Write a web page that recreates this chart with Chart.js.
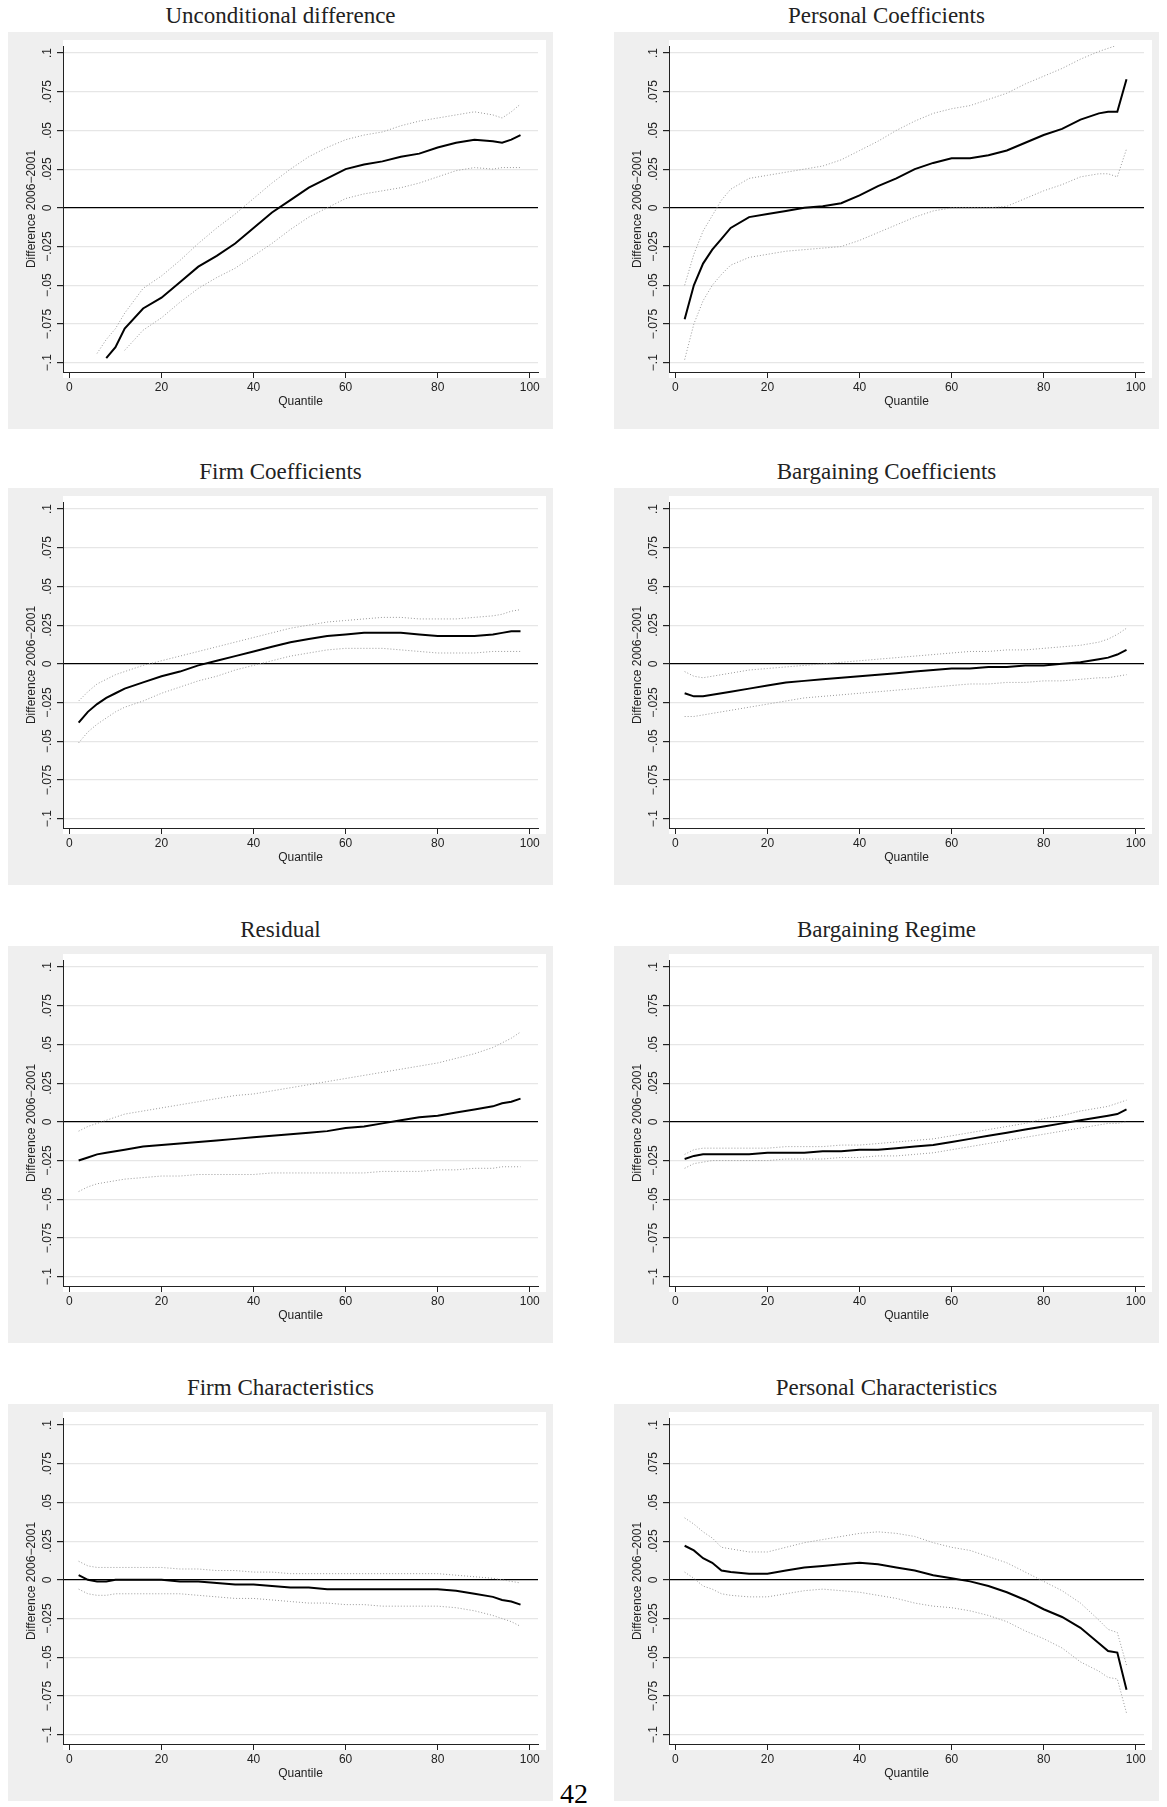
<!DOCTYPE html>
<html>
<head>
<meta charset="utf-8">
<script src="https://cdn.jsdelivr.net/npm/chart.js@4"></script>
<style>
body{margin:0;background:#fff;width:1167px;height:1807px;position:relative;overflow:hidden;}
.title{position:absolute;width:545px;text-align:center;font-family:"Liberation Serif",serif;font-weight:normal;font-size:23px;color:#222;}
.panel{position:absolute;width:545px;height:397px;background:#efefef;}
.page{position:absolute;left:560px;top:1778px;font-family:"Liberation Serif",serif;font-size:28px;}
</style>
</head>
<body>
<div id="wrap"></div>
<div class="page">42</div>
<script>
// quantile grid shared by all panels
const Q = [2,4,6,8,10,12,16,20,24,28,32,36,40,44,48,52,56,60,64,68,72,76,80,84,88,92,94,96,98];
const _ = null;

const titles = ['Unconditional difference','Personal Coefficients','Firm Coefficients','Bargaining Coefficients',
  'Residual','Bargaining Regime','Firm Characteristics','Personal Characteristics'];

// estimates
const est1 = [_,_,_,-0.097,-0.09,-0.078,-0.065,-0.058,-0.048,-0.038,-0.031,-0.023,-0.013,-0.003,0.005,0.013,0.019,0.025,0.028,0.030,0.033,0.035,0.039,0.042,0.044,0.043,0.042,0.044,0.047];
const up1  = [_,_,-0.094,-0.085,-0.078,-0.068,-0.052,-0.044,-0.034,-0.023,-0.013,-0.004,0.006,0.016,0.025,0.033,0.039,0.044,0.047,0.049,0.053,0.056,0.058,0.060,0.062,0.060,0.058,0.062,0.067];
const lo1  = [_,_,_,_,_,-0.092,-0.079,-0.071,-0.061,-0.052,-0.045,-0.039,-0.031,-0.023,-0.014,-0.006,0.000,0.006,0.009,0.011,0.013,0.016,0.020,0.024,0.026,0.025,0.026,0.026,0.026];

const est2 = [-0.072,-0.050,-0.036,-0.027,-0.020,-0.013,-0.006,-0.004,-0.002,0.000,0.001,0.003,0.008,0.014,0.019,0.025,0.029,0.032,0.032,0.034,0.037,0.042,0.047,0.051,0.057,0.061,0.062,0.062,0.083];
const up2  = [-0.05,-0.03,-0.015,-0.005,0.005,0.012,0.019,0.021,0.023,0.025,0.027,0.031,0.037,0.043,0.050,0.056,0.061,0.064,0.066,0.070,0.074,0.080,0.085,0.090,0.096,0.101,0.103,0.105,0.12];
const lo2  = [-0.098,-0.075,-0.060,-0.050,-0.043,-0.037,-0.032,-0.030,-0.028,-0.027,-0.026,-0.025,-0.021,-0.016,-0.011,-0.006,-0.002,0.000,0.000,0.000,0.001,0.006,0.011,0.015,0.020,0.022,0.022,0.020,0.038];

const est3 = [-0.038,-0.031,-0.026,-0.022,-0.019,-0.016,-0.012,-0.008,-0.005,-0.001,0.002,0.005,0.008,0.011,0.014,0.016,0.018,0.019,0.020,0.020,0.020,0.019,0.018,0.018,0.018,0.019,0.020,0.021,0.021];
const up3  = [-0.024,-0.018,-0.013,-0.010,-0.007,-0.005,-0.001,0.002,0.005,0.008,0.011,0.014,0.017,0.020,0.023,0.025,0.027,0.028,0.029,0.030,0.030,0.029,0.029,0.029,0.030,0.031,0.032,0.034,0.035];
const lo3  = [-0.051,-0.044,-0.039,-0.035,-0.031,-0.028,-0.024,-0.019,-0.015,-0.011,-0.008,-0.004,-0.001,0.002,0.005,0.007,0.009,0.010,0.010,0.010,0.009,0.008,0.007,0.007,0.007,0.008,0.008,0.008,0.008];

const est4 = [-0.019,-0.021,-0.021,-0.020,-0.019,-0.018,-0.016,-0.014,-0.012,-0.011,-0.010,-0.009,-0.008,-0.007,-0.006,-0.005,-0.004,-0.003,-0.003,-0.002,-0.002,-0.001,-0.001,0.000,0.001,0.003,0.004,0.006,0.009];
const up4  = [-0.005,-0.008,-0.009,-0.008,-0.007,-0.006,-0.004,-0.003,-0.002,-0.001,0.000,0.001,0.002,0.003,0.004,0.005,0.006,0.007,0.008,0.008,0.009,0.009,0.010,0.011,0.012,0.014,0.016,0.019,0.023];
const lo4  = [-0.034,-0.034,-0.033,-0.032,-0.031,-0.030,-0.028,-0.026,-0.024,-0.022,-0.021,-0.020,-0.019,-0.018,-0.017,-0.016,-0.015,-0.014,-0.013,-0.013,-0.012,-0.012,-0.011,-0.011,-0.010,-0.009,-0.009,-0.008,-0.007];

const est5 = [-0.025,-0.023,-0.021,-0.020,-0.019,-0.018,-0.016,-0.015,-0.014,-0.013,-0.012,-0.011,-0.010,-0.009,-0.008,-0.007,-0.006,-0.004,-0.003,-0.001,0.001,0.003,0.004,0.006,0.008,0.010,0.012,0.013,0.015];
const up5  = [-0.006,-0.003,-0.001,0.001,0.003,0.005,0.007,0.009,0.011,0.013,0.015,0.017,0.018,0.020,0.022,0.024,0.026,0.028,0.030,0.032,0.034,0.036,0.038,0.041,0.044,0.048,0.051,0.054,0.058];
const lo5  = [-0.045,-0.042,-0.040,-0.039,-0.038,-0.037,-0.036,-0.035,-0.035,-0.034,-0.034,-0.034,-0.034,-0.033,-0.033,-0.033,-0.033,-0.033,-0.033,-0.032,-0.032,-0.032,-0.031,-0.031,-0.030,-0.030,-0.029,-0.029,-0.029];

const est6 = [-0.024,-0.022,-0.021,-0.021,-0.021,-0.021,-0.021,-0.020,-0.020,-0.020,-0.019,-0.019,-0.018,-0.018,-0.017,-0.016,-0.015,-0.013,-0.011,-0.009,-0.007,-0.005,-0.003,-0.001,0.001,0.003,0.004,0.005,0.008];
const up6  = [-0.021,-0.018,-0.017,-0.017,-0.017,-0.017,-0.017,-0.017,-0.016,-0.016,-0.016,-0.015,-0.015,-0.014,-0.013,-0.012,-0.011,-0.009,-0.007,-0.005,-0.003,-0.001,0.002,0.004,0.007,0.009,0.010,0.012,0.014];
const lo6  = [-0.030,-0.027,-0.026,-0.025,-0.025,-0.025,-0.025,-0.025,-0.024,-0.024,-0.024,-0.023,-0.023,-0.022,-0.022,-0.021,-0.020,-0.018,-0.016,-0.014,-0.012,-0.010,-0.008,-0.006,-0.004,-0.002,-0.001,-0.001,0.000];

const est7 = [0.003,0.000,-0.001,-0.001,0.000,0.000,0.000,0.000,-0.001,-0.001,-0.002,-0.003,-0.003,-0.004,-0.005,-0.005,-0.006,-0.006,-0.006,-0.006,-0.006,-0.006,-0.006,-0.007,-0.009,-0.011,-0.013,-0.014,-0.016];
const up7  = [0.012,0.009,0.008,0.008,0.008,0.008,0.008,0.008,0.007,0.007,0.006,0.006,0.005,0.005,0.004,0.004,0.004,0.004,0.004,0.004,0.004,0.004,0.004,0.003,0.002,0.001,0.000,-0.001,-0.002];
const lo7  = [-0.006,-0.009,-0.010,-0.010,-0.009,-0.009,-0.009,-0.009,-0.009,-0.010,-0.011,-0.012,-0.012,-0.013,-0.014,-0.015,-0.015,-0.016,-0.016,-0.017,-0.017,-0.017,-0.017,-0.018,-0.020,-0.023,-0.025,-0.027,-0.030];

const est8 = [0.022,0.019,0.014,0.011,0.006,0.005,0.004,0.004,0.006,0.008,0.009,0.010,0.011,0.010,0.008,0.006,0.003,0.001,-0.001,-0.004,-0.008,-0.013,-0.019,-0.024,-0.031,-0.041,-0.046,-0.047,-0.071];
const up8  = [0.040,0.036,0.031,0.027,0.021,0.020,0.018,0.018,0.021,0.024,0.026,0.028,0.030,0.031,0.030,0.028,0.024,0.021,0.019,0.015,0.011,0.005,-0.001,-0.007,-0.015,-0.026,-0.032,-0.034,-0.055];
const lo8  = [0.005,0.001,-0.004,-0.006,-0.009,-0.010,-0.011,-0.011,-0.009,-0.007,-0.006,-0.007,-0.008,-0.010,-0.012,-0.015,-0.017,-0.018,-0.020,-0.023,-0.027,-0.033,-0.038,-0.044,-0.053,-0.059,-0.063,-0.064,-0.086];

const series = [[est1,up1,lo1],[est2,up2,lo2],[est3,up3,lo3],[est4,up4,lo4],
  [est5,up5,lo5],[est6,up6,lo6],[est7,up7,lo7],[est8,up8,lo8]];

const yTicks = [-0.1,-0.075,-0.05,-0.025,0,0.025,0.05,0.075,0.1];
const xTicks = [0,20,40,60,80,100];
function fmt(v){
  if (Math.abs(v) < 1e-9) return '0';
  let s = String(Math.abs(v)).replace(/^0/, '');
  return (v < 0 ? '\u2212' : '') + s;
}

// white plot region
const whiteArea = {
  id:'whiteArea',
  beforeDraw(chart){
    const a = chart.chartArea, ctx = chart.ctx;
    ctx.save();
    ctx.fillStyle = '#fff';
    ctx.fillRect(a.left, a.top - 6, a.right - a.left + 8, a.bottom - a.top + 12);
    ctx.restore();
  }
};

// rotated y tick labels, drawn at the scale's own pixel positions
const rotLabels = {
  id:'rotLabels',
  afterDraw(chart){
    const y = chart.scales.y, ctx = chart.ctx;
    ctx.save();
    ctx.font = '12px "Liberation Sans", Arial, sans-serif';
    ctx.fillStyle = '#222';
    ctx.textAlign = 'center';
    ctx.textBaseline = 'middle';
    yTicks.forEach(v => {
      ctx.save();
      ctx.translate(y.right - 15, y.getPixelForValue(v));
      ctx.rotate(-Math.PI/2);
      ctx.fillText(fmt(v), 0, 0);
      ctx.restore();
    });
    ctx.restore();
  }
};

const lefts = [8, 614];
const tops = [32, 488, 946, 1404];
const wrap = document.getElementById('wrap');

titles.forEach((t, i) => {
  const L = lefts[i % 2], T = tops[Math.floor(i / 2)];
  const h = document.createElement('div');
  h.className = 'title'; h.textContent = t;
  h.style.left = L + 'px'; h.style.top = (T - 29) + 'px';
  wrap.appendChild(h);
  const p = document.createElement('div');
  p.className = 'panel';
  p.style.left = L + 'px'; p.style.top = T + 'px';
  const c = document.createElement('canvas');
  c.width = 545; c.height = 397;
  p.appendChild(c);
  wrap.appendChild(p);

  const [e, u, l] = series[i];
  const pts = arr => Q.map((q, k) => ({x:q, y:arr[k]}));
  const dotted = {borderColor:'#9a9a9a', borderWidth:1, borderDash:[1,2], pointRadius:0, fill:false, spanGaps:false};
  new Chart(c, {
    type:'line',
    data:{datasets:[
      {data:pts(u), ...dotted},
      {data:pts(l), ...dotted},
      {data:pts(e), borderColor:'#000', borderWidth:2, pointRadius:0, fill:false}
    ]},
    options:{
      responsive:false, animation:false,
      layout:{padding:{top:14, right:15, left:12, bottom:20}},
      plugins:{legend:{display:false}, tooltip:{enabled:false}},
      scales:{
        x:{type:'linear', min:-1.4, max:101.8,
          afterBuildTicks: s => { s.ticks = xTicks.map(v => ({value:v})); },
          afterFit: s => { s.height = 37; },
          grid:{color:'rgba(0,0,0,0)', tickColor:'#222', tickLength:6, drawTicks:true},
          border:{display:true, color:'#222', width:1},
          ticks:{color:'#222', font:{family:'"Liberation Sans", Arial, sans-serif', size:12}, padding:2, maxRotation:0},
          title:{display:true, text:'Quantile', color:'#222', padding:{top:0, bottom:0}, font:{family:'"Liberation Sans", Arial, sans-serif', size:12}}
        },
        y:{min:-0.106, max:0.1045,
          afterBuildTicks: s => { s.ticks = yTicks.map(v => ({value:v})); },
          afterFit: s => { s.width = 43; },
          grid:{color: ctx => Math.abs(ctx.tick.value) < 1e-9 ? '#000' : '#e6e6e6', lineWidth:1.2, tickColor:'#222', tickLength:6},
          border:{display:true, color:'#222', width:1},
          ticks:{callback: () => '', padding:0},
          title:{display:true, text:'Difference 2006\u22122001', color:'#222', padding:{bottom:0}, font:{family:'"Liberation Sans", Arial, sans-serif', size:12}}
        }
      }
    },
    plugins:[whiteArea, rotLabels]
  });
});
</script>
</body>
</html>
